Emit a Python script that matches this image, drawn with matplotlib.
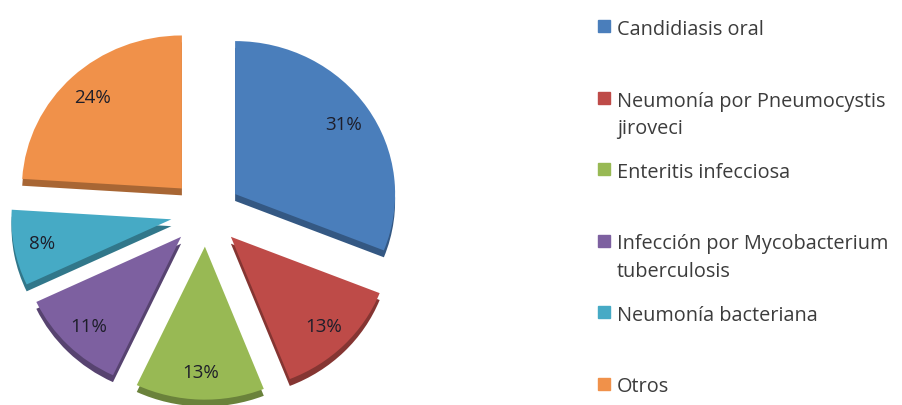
import matplotlib
matplotlib.use("Agg")
import matplotlib.pyplot as plt
from matplotlib.patches import Rectangle
import matplotlib.colors as mcolors

# data
labels = ["Candidiasis oral", "Neumonía por Pneumocystis\njiroveci",
          "Enteritis infecciosa", "Infección por Mycobacterium\ntuberculosis",
          "Neumonía bacteriana", "Otros"]
values = [31, 13, 13, 11, 8, 24]
colors = ["#4A7EBB", "#BE4B48", "#98B954", "#7D60A0", "#46AAC5", "#F0914A"]

plt.rcParams['font.family'] = ['Open Sans', 'DejaVu Sans']

fig = plt.figure(figsize=(9.03, 4.06), dpi=100)
W, H = 903, 406
ax = fig.add_axes([0, 0, 1, 1])
sx, sy = 160.0, 153.0  # pixels per radius unit (pie is slightly tilted)
cx, cy = 206, 214  # pie centre in pixels from top-left

explode = [0.22] * len(values)
dark = [tuple(c * 0.7 for c in mcolors.to_rgb(col)) for col in colors]

# side face for the 3D look
ax.pie(values, explode=explode, colors=dark, startangle=90, counterclock=False,
       center=(0, -0.045), radius=1.0, wedgeprops=dict(linewidth=0))
wedges, texts, autotexts = ax.pie(values, explode=explode, colors=colors,
                                  startangle=90, counterclock=False,
                                  autopct='%1.0f%%', pctdistance=0.82,
                                  radius=1.0, wedgeprops=dict(linewidth=0),
                                  textprops=dict(fontsize=13.5, color='#1e1e2a'))
ax.set_aspect('auto')
ax.set_xlim(-cx / sx, (W - cx) / sx)
ax.set_ylim(-(H - cy) / sy, cy / sy)
ax.axis('off')

# legend, Excel style: each entry at the top of an equal slot
top0, slot = 19, 71.5
for i, (lab, col) in enumerate(zip(labels, colors)):
    ytop = top0 + i * slot
    fig.patches.append(Rectangle((598 / W, 1 - (ytop + 14) / H), 12 / W, 12 / H,
                                 transform=fig.transFigure, color=col))
    fig.text(617 / W, 1 - (ytop + 1) / H, lab, fontsize=14.3, color='#3c3c3c',
             va='top', ha='left', linespacing=1.47)

fig.savefig("out.png", dpi=100)
